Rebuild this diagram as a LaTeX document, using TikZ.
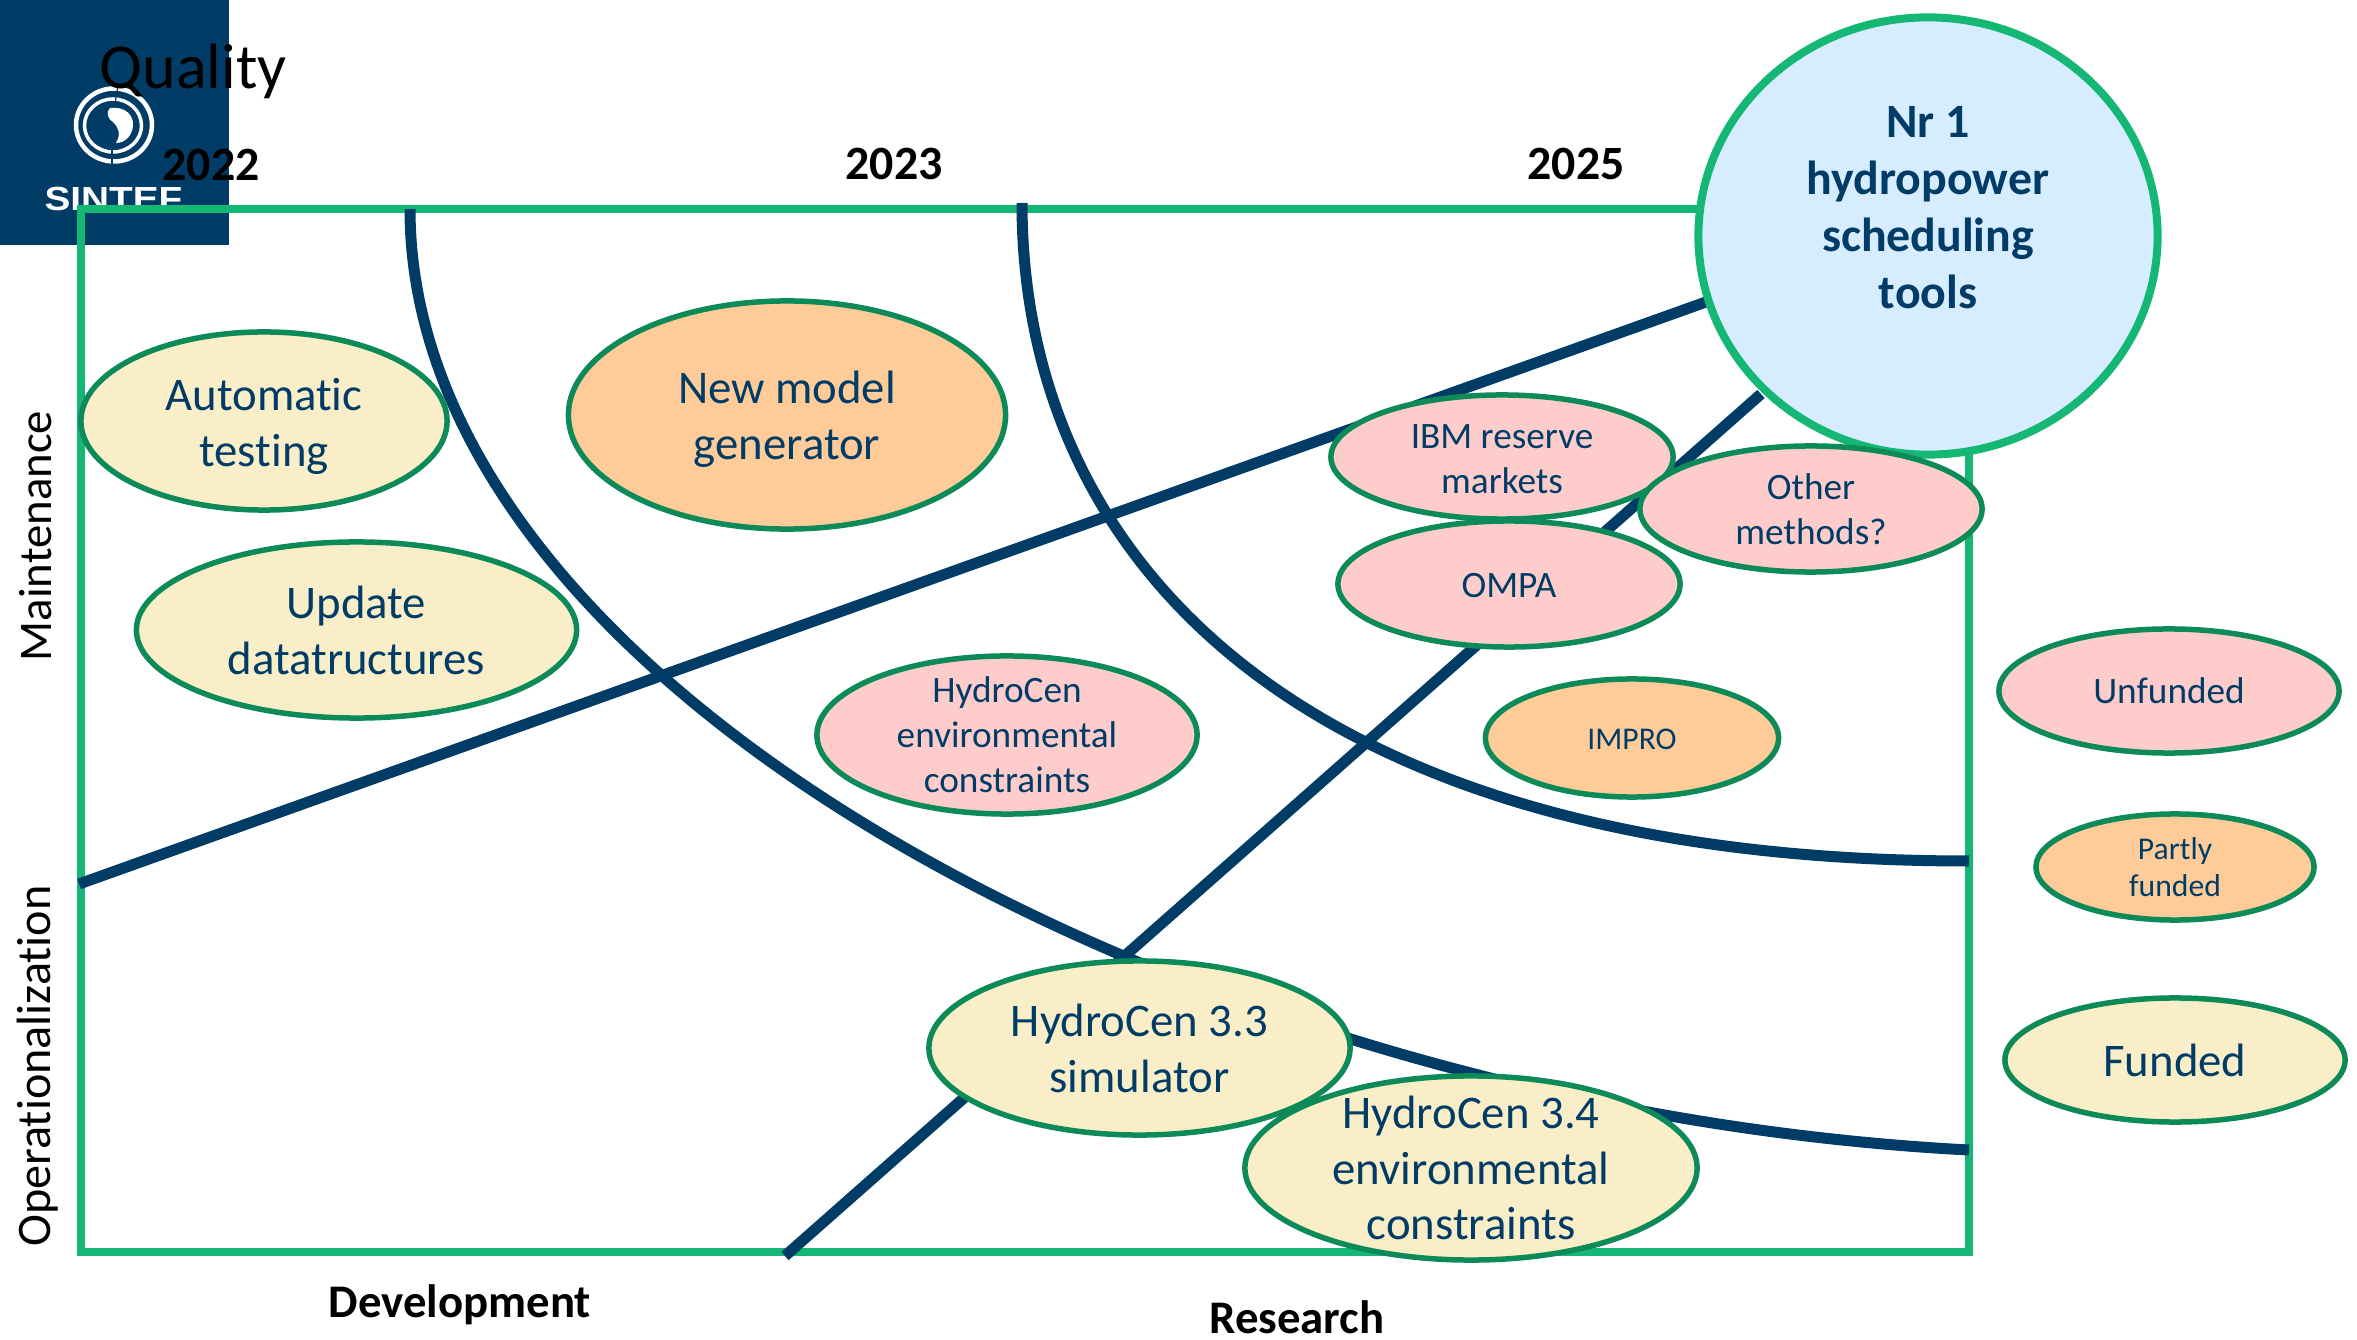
\documentclass[tikz,border=0pt]{standalone}
\usepackage{fontspec}
\setmainfont[Ligatures=NoCommon]{Carlito}
\newfontfamily\logofont{Liberation Sans}
\usetikzlibrary{shapes.geometric}
\definecolor{sintefblue}{HTML}{003C65}
\definecolor{framegreen}{HTML}{14B874}
\definecolor{rimgreen}{HTML}{0C8A57}
\definecolor{unfundedfill}{HTML}{FFCCCC}
\definecolor{partlyfill}{HTML}{FFCC99}
\definecolor{fundedfill}{HTML}{FAEEC9}
\definecolor{goalfill}{HTML}{D6ECFF}
\newcommand{\lowerby}[1]{\rule{0pt}{#1}}
\tikzset{
	bubble/.style={ellipse, draw=rimgreen, line width=0.055cm, inner sep=-1cm, align=center, text=sintefblue},
	unfunded/.style={bubble, fill=unfundedfill, font=\fontsize{10.6}{12.8}\selectfont},
	partly/.style={bubble, fill=partlyfill, font=\fontsize{9}{10.6}\selectfont},
	funded/.style={bubble, fill=fundedfill, font=\fontsize{13.3}{15.9}\selectfont},
	roadline/.style={draw=sintefblue, line width=0.11cm},
	heading/.style={font=\fontsize{13.3}{15.9}\selectfont\bfseries, text=black},
	yearlabel/.style={font=\fontsize{13.6}{16}\selectfont\bfseries, text=black},
	axislabel/.style={font=\fontsize{13.3}{15.9}\selectfont, text=black, rotate=90}
}
\begin{document}
\begin{tikzpicture}[x=0.01cm, y=-0.01cm]
	\useasboundingbox (0,0) rectangle (2357,1340);

	% Draw the logo block
	\fill[sintefblue] (0,0) rectangle (229,245);
	\draw[white, line width=0.045cm] (114,125) ellipse (38 and 36.5);
	\draw[white, line width=0.035cm] (113,125.5) ellipse (28.5 and 26.5);
	\draw[sintefblue, line width=0.012cm] (118,85) -- (115,104);
	\draw[sintefblue, line width=0.012cm] (112,146) -- (112,165);
	\fill[white] (110,108) .. controls (126,106) and (134,116) .. (133,126) .. controls (132,136) and (125,143) .. (116,143) .. controls (121,134) and (119,128) .. (113,122) .. controls (107,118) and (106,112) .. (110,108) -- cycle;
	\node[font=\logofont\fontsize{9.5}{11}\selectfont\bfseries, text=white, anchor=base, inner sep=0pt, xscale=1.16, transform shape] (logotext) at (113.5,211) {SINTEF};

	% Draw the frame
	\draw[framegreen, line width=0.08cm] (81,209) rectangle (1969,1252);

	% Coordinates for the road lines
	\coordinate (lineonestart) at (79,884);
	\coordinate (lineoneend) at (1706,302);
	\coordinate (linetwostart) at (785,1256);
	\coordinate (linetwoend) at (1761,394);
	\coordinate (arconestart) at (410,209);
	\coordinate (arconeend) at (1969,1150);
	\coordinate (arctwostart) at (1022,203);
	\coordinate (arctwoend) at (1969,861);

	% Draw the road lines
	\draw[roadline] (lineonestart) -- (lineoneend);
	\draw[roadline] (linetwostart) -- (linetwoend);
	\draw[roadline] (arconestart) .. controls (410,692) and (1200,1110) .. (arconeend);
	\draw[roadline] (arctwostart) .. controls (1022,560) and (1300,861) .. (arctwoend);

	% Draw the goal circle
	\node[bubble, draw=framegreen, line width=0.08cm, fill=goalfill, minimum width=4.59cm, minimum height=4.37cm, font=\fontsize{13.6}{16.2}\selectfont\bfseries] (goal) at (1928,236) {Nr 1\\hydropower\\scheduling\\tools\\\mbox{}};

	% Draw the bubbles
	\node[funded, minimum width=3.66cm, minimum height=1.78cm] (testing) at (264,421) {\lowerby{12.4pt}Automatic\\testing};
	\node[partly, font=\fontsize{13.3}{15.9}\selectfont, minimum width=4.37cm, minimum height=2.28cm] (generator) at (787,415) {\lowerby{11.9pt}New model\\generator};
	\node[funded, minimum width=4.4cm, minimum height=1.76cm] (datastruct) at (356.5,630) {Update\\datatructures};
	\node[unfunded, minimum width=3.42cm, minimum height=1.24cm] (ibm) at (1502,457) {\lowerby{8.3pt}IBM reserve\\markets};
	\node[unfunded, minimum width=3.42cm, minimum height=1.26cm] (methods) at (1811,509) {Other\\methods?};
	\node[unfunded, minimum width=3.42cm, minimum height=1.26cm] (ompa) at (1509,584) {\lowerby{7.8pt}OMPA};
	\node[partly, minimum width=2.93cm, minimum height=1.18cm] (impro) at (1632,738) {\lowerby{6.7pt}IMPRO};
	\node[unfunded, minimum width=3.8cm, minimum height=1.58cm] (envcons) at (1007,735) {HydroCen\\environmental\\constraints};
	\node[funded, minimum width=4.21cm, minimum height=1.74cm] (simulator) at (1139.5,1048) {HydroCen 3.3\\simulator};
	\node[funded, minimum width=4.52cm, minimum height=1.84cm] (newcons) at (1471,1168) {HydroCen 3.4\\environmental\\constraints};

	% Draw the legend
	\node[unfunded, minimum width=3.4cm, minimum height=1.24cm] (legendunfunded) at (2169,691) {Unfunded};
	\node[partly, minimum width=2.78cm, minimum height=1.06cm] (legendpartly) at (2175,867) {Partly\\funded};
	\node[funded, minimum width=3.4cm, minimum height=1.24cm] (legendfunded) at (2175,1060) {Funded};

	% Draw the labels
	\node[font=\fontsize{18.2}{22}\selectfont, text=black] (quality) at (193,71) {Quality};
	\node[yearlabel] (yearone) at (211,165) {2022};
	\node[yearlabel] (yeartwo) at (894,164) {2023};
	\node[yearlabel] (yearthree) at (1576,164) {2025};
	\node[axislabel] (maintenance) at (36,536) {Maintenance};
	\node[axislabel, font=\fontsize{13.7}{16}\selectfont] (operation) at (38,1066) {Operationalization};
	\node[heading] (development) at (460,1305) {Development};
	\node[heading] (research) at (1297,1317) {Research};
\end{tikzpicture}
\end{document}
